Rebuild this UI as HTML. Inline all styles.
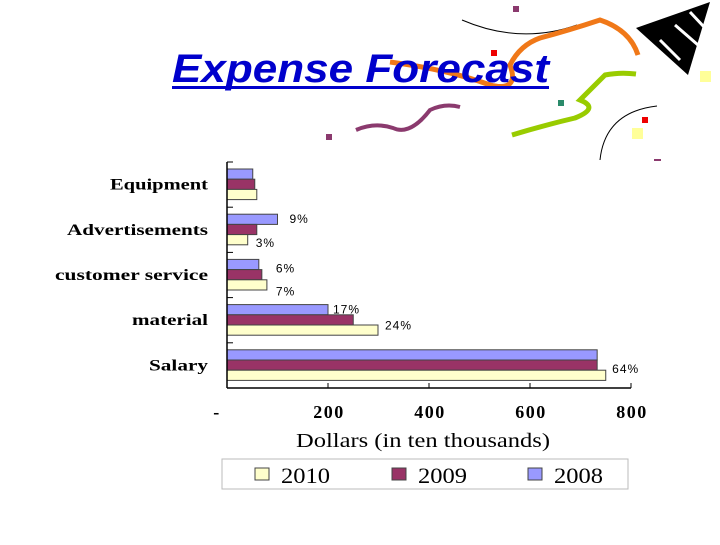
<!DOCTYPE html>
<html><head><meta charset="utf-8"><style>
body{margin:0;width:720px;height:540px;background:#fff;overflow:hidden;font-family:"Liberation Sans",sans-serif}
</style></head><body>
<svg id="s" width="720" height="540" viewBox="0 0 720 540" xmlns="http://www.w3.org/2000/svg">
<g>
<path d="M462,20 Q520,45 577,25" fill="none" stroke="#000" stroke-width="1"/>
<rect x="513" y="6" width="6" height="6" fill="#8b3a6e"/>
<path d="M390,62 Q450,70 490,85 Q520,92 510,65 Q520,45 540,38 Q570,30 600,20 Q630,30 638,55" fill="none" stroke="#f07818" stroke-width="5"/>
<path d="M512,135 Q545,125 575,118 Q600,108 580,100 Q600,80 605,75 Q620,72 636,74" fill="none" stroke="#99cc00" stroke-width="5"/>
<path d="M356,130 Q375,122 393,128 Q410,136 430,110 Q445,103 460,107" fill="none" stroke="#8b3a6e" stroke-width="4"/>
<rect x="491" y="50" width="6" height="6" fill="#e00"/>
<rect x="558" y="100" width="6" height="6" fill="#2a8a6a"/>
<rect x="326" y="134" width="6" height="6" fill="#8b3a6e"/>
<rect x="642" y="117" width="6" height="6" fill="#e00"/>
<rect x="632" y="128" width="11" height="11" fill="#ffff99"/>
<rect x="700" y="71" width="11" height="11" fill="#ffff99"/>
<rect x="654" y="159" width="7" height="2" fill="#8b3a6e"/>
<path d="M600,160 Q605,112 657,106" fill="none" stroke="#000"/>
<polygon points="636,28 710,2 688,75" fill="#000"/>
<path d="M660,40 L680,60 M675,25 L698,45 M690,12 L705,28" stroke="#fff" stroke-width="3"/>
</g>
<text x="172" y="82" textLength="377" lengthAdjust="spacingAndGlyphs" font-family="Liberation Sans" font-weight="bold" font-style="italic" font-size="40" fill="#0000cc">Expense Forecast</text>
<rect x="172" y="86" width="377" height="3" fill="#0000cc"/>
<g id="chart"></g>
</svg>
<script>
const categories=["Equipment","Advertisements","customer service","material","Salary"];
const series2008=[51,100,63,200,733];
const series2009=[55,59,69,250,733];
const series2010=[59,41,79,299,750];
const xTicks=[0,200,400,600,800];
const xTickLabels=["-","200","400","600","800"];
const pctLabels=[["","",""],["9%","","3%"],["6%","","7%"],["17%","24%",""],["64%","",""]];
const NS="http://www.w3.org/2000/svg";
const g=document.getElementById('chart');
const x0=227,x1=631,yTop=162,yBottom=388;
const gh=(yBottom-yTop)/categories.length;
const labelW=[98,141,153,76,59];
function xs(v){return x0+(x1-x0)*v/800;}
function mk(t,a,p){const e=document.createElementNS(NS,t);for(const k in a)e.setAttribute(k,a[k]);(p||g).appendChild(e);return e;}
const colors=["#9999ff","#993366","#ffffcc"];
const sers=[series2008,series2009,series2010];
categories.forEach((c,i)=>{
  const y=yTop+i*gh;
  const t=mk('text',{x:208,y:y+gh/2+5,'text-anchor':'end','font-family':'Liberation Serif','font-weight':'bold','font-size':16,fill:'#000',textLength:labelW[i],lengthAdjust:'spacingAndGlyphs'});
  t.textContent=c;
  
  
  sers.forEach((s,j)=>{
    const by=y+7+j*10.2;
    const r=mk('rect',{x:x0,y:by,width:xs(s[i])-x0,height:10.2,fill:colors[j],stroke:'#444','stroke-width':1});
    
    
  });
});
pctLabels.forEach((row,i)=>{
  const y=yTop+i*gh;
  const pos=[[xs(series2008[i])+12,y+16],[xs(series2009[i])+20,y+27],[xs(series2010[i])+8,y+40]];
  row.forEach((l,j)=>{ if(!l)return;
    let px=pos[j][0],py=pos[j][1];
    if(i==2&&j==0){px=xs(series2008[i])+17;py=y+20;} if(i==2&&j==2){px=xs(series2010[i])+9;py=y+43;}
    if(i==3&&j==0){px=xs(series2008[i])+5;py=y+16;}
    if(i==3&&j==1){px=xs(series2010[i])+7;py=y+32;}
    if(i==4){px=xs(series2008[i])+15;py=y+30;}
    const t=mk('text',{x:px,y:py,'font-size':12,'letter-spacing':1,fill:'#000'});
    t.textContent=l;
    
    
  });
});
const ax=mk('line',{x1:x0,y1:yTop,x2:x0,y2:yBottom,stroke:'#000','stroke-width':1.5});

const bx=mk('line',{x1:x0,y1:yBottom,x2:x1,y2:yBottom,stroke:'#000','stroke-width':1.5});

for(let i=0;i<=categories.length;i++){mk('line',{x1:x0,y1:yTop+i*gh,x2:x0+6,y2:yTop+i*gh,stroke:'#000'});}
xTicks.forEach((v,i)=>{
  mk('line',{x1:xs(v),y1:yBottom,x2:xs(v),y2:yBottom-5,stroke:'#000'});
  const t=mk('text',{x:i==0?xs(v)-10:xs(v)+1,y:418,'text-anchor':'middle','font-family':'Liberation Serif','font-weight':'bold','font-size':18,'letter-spacing':1.5,fill:'#000'});
  t.textContent=xTickLabels[i];
  
  
});
const at=mk('text',{x:296,y:447,'font-family':'Liberation Serif','font-size':20,fill:'#000',textLength:254,lengthAdjust:'spacingAndGlyphs'});
at.textContent="Dollars (in ten thousands)";

const lg=mk('rect',{x:222,y:459,width:406,height:30,fill:'#fff',stroke:'#bbb'});

[["2010","#ffffcc",255],["2009","#993366",392],["2008","#9999ff",528]].forEach(([n,c,x])=>{
  const r=mk('rect',{x:x,y:468,width:14,height:12,fill:c,stroke:'#444'});
  
  const t=mk('text',{x:x+26,y:483,'font-family':'Liberation Serif','font-size':22,fill:'#000',textLength:49,lengthAdjust:'spacingAndGlyphs'});
  t.textContent=n;
  
});
</script>
</body></html>
